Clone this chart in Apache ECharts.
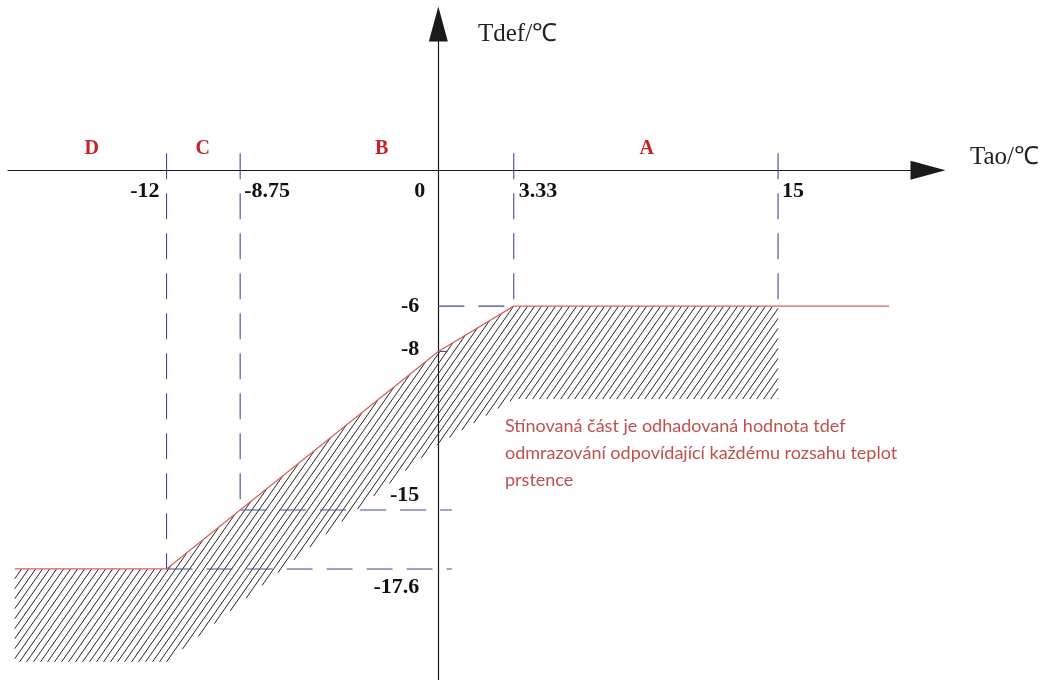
<!DOCTYPE html>
<html>
<head>
<meta charset="utf-8">
<script src="https://cdn.jsdelivr.net/npm/echarts@6/dist/echarts.min.js"></script>
<style>
  html, body { margin: 0; padding: 0; background: #fff; }
  #chart { width: 1043px; height: 680px; }
</style>
</head>
<body>
<div id="chart"></div>
<script>
// Outdoor temperature break points (Tao, °C) and defrost temperature levels (Tdef, °C)
const taoBreaks = [-12, -8.75, 0, 3.33, 15];
const tdefLevels = [-6, -8, -15, -17.6];
const zoneNames = ['D', 'C', 'B', 'A'];
const zoneCenters = [-15.3, -10.4, -2.5, 9.2];

// Defrost threshold curve, (Tao, Tdef)
const thresholdCurve = [[-18.7, -17.6], [-12, -17.6], [-8.75, -15], [0, -8], [3.33, -6], [19.9, -6]];
// Lower edge of the estimated band, right to left
const bandLower = [[15, -10.1], [3.33, -10.1], [0, -12.1], [-8.75, -19.1], [-12, -21.7], [-18.7, -21.7]];
const bandRight = 15;

// Guide segments between break points and levels
const guides = [
  [[-12, 0.75], [-12, -17.6]],
  [[-8.75, 0.75], [-8.75, -15]],
  [[3.33, 0.75], [3.33, -6]],
  [[15, 0.75], [15, -6]],
  [[0, -6], [3.33, -6]],
  [[0, -8], [0.4, -8]],
  [[-8.75, -15], [0.6, -15]],
  [[-12, -17.6], [0.6, -17.6]]
];

const noteLines = [
  'Stínovaná část je odhadovaná hodnota tdef',
  'odmrazování odpovídající každému rozsahu teplot',
  'prstence'
];

// ---- layout / styling ----
const SERIF = '"Liberation Serif", "Times New Roman", serif';
const xLabelDx = { '-12': -7, '-8.75': 4, '0': -13, '3.33': 5, '15': 4 };
const yLabelDy = { '-6': 0, '-8': -2, '-15': -15, '-17.6': 18 };
const HATCH_STEP = 7;                         // horizontal spacing, px
const HATCH_COT = 1 / Math.tan(55 * Math.PI / 180);

function curveAt(x) {
  for (let i = 1; i < thresholdCurve.length; i++) {
    const a = thresholdCurve[i - 1], b = thresholdCurve[i];
    if (x <= b[0]) return a[1] + (b[1] - a[1]) * (x - a[0]) / (b[0] - a[0]);
  }
  return thresholdCurve[thresholdCurve.length - 1][1];
}

const bandPolygon = thresholdCurve
  .filter(p => p[0] < bandRight)
  .concat([[bandRight, curveAt(bandRight)]])
  .concat(bandLower);

// Hatch lines "/" clipped to a pixel polygon
function hatchSegments(pts) {
  const f = p => p[0] + p[1] * HATCH_COT;
  const vals = pts.map(f);
  const cMin = Math.min.apply(null, vals), cMax = Math.max.apply(null, vals);
  const segs = [];
  for (let c = Math.ceil(cMin / HATCH_STEP) * HATCH_STEP; c <= cMax; c += HATCH_STEP) {
    const hits = [];
    for (let i = 0; i < pts.length; i++) {
      const a = pts[i], b = pts[(i + 1) % pts.length];
      const fa = vals[i] - c, fb = vals[(i + 1) % pts.length] - c;
      if ((fa < 0 && fb >= 0) || (fa >= 0 && fb < 0)) {
        const t = fa / (fa - fb);
        hits.push([a[0] + (b[0] - a[0]) * t, a[1] + (b[1] - a[1]) * t]);
      }
    }
    hits.sort((p, q) => p[1] - q[1]);
    for (let k = 0; k + 1 < hits.length; k += 2) segs.push([hits[k], hits[k + 1]]);
  }
  return segs;
}

const chart = echarts.init(document.getElementById('chart'), null, { renderer: 'canvas' });

const axisCommon = {
  type: 'value',
  axisLine: {
    show: true,
    onZero: true,
    symbol: ['none', 'triangle'],
    symbolSize: [19, 35],
    lineStyle: { color: '#1a1a1a', width: 1.2 }
  },
  axisTick: { show: false },
  axisLabel: { show: false },
  splitLine: { show: false }
};

const textEl = (text, x, y, align) => ({
  type: 'text',
  x, y,
  style: {
    text,
    fill: '#111',
    font: 'bold 22px ' + SERIF,
    align,
    verticalAlign: 'middle'
  }
});

chart.setOption({
  animation: false,
  backgroundColor: '#fff',
  grid: { left: 8, width: 920, top: 24, height: 656 },
  xAxis: Object.assign({}, axisCommon, { min: -19, max: 21.62 }),
  yAxis: Object.assign({}, axisCommon, { min: -22.5, max: 6.45 }),
  series: [
    {
      // hatched band of estimated values
      type: 'custom',
      z: 1,
      data: [0],
      renderItem: (params, api) => {
        const pts = bandPolygon.map(p => api.coord(p));
        return {
          type: 'group',
          children: hatchSegments(pts).map(s => ({
            type: 'line',
            shape: { x1: s[0][0], y1: s[0][1], x2: s[1][0], y2: s[1][1] },
            style: { stroke: '#262626', lineWidth: 1 }
          }))
        };
      }
    },
    {
      // dashed guides
      type: 'custom',
      z: 2,
      data: guides.map((g, i) => i),
      renderItem: (params, api) => {
        const seg = guides[params.dataIndex];
        const a = api.coord(seg[0]), b = api.coord(seg[1]);
        return {
          type: 'line',
          shape: { x1: a[0], y1: a[1], x2: b[0], y2: b[1] },
          style: { stroke: '#3f4a9c', lineWidth: 1.1, lineDash: [26, 14] }
        };
      }
    },
    {
      type: 'line',
      z: 3,
      data: thresholdCurve,
      symbol: 'none',
      lineStyle: { color: '#d9605a', width: 1.2 }
    },
    {
      // break-point and level labels
      type: 'custom',
      z: 4,
      data: [0],
      renderItem: (params, api) => {
        const children = [];
        taoBreaks.forEach(v => {
          const p = api.coord([v, 0]);
          const dx = xLabelDx[String(v)];
          children.push(textEl(String(v), p[0] + dx, p[1] + 21, dx < 0 ? 'right' : 'left'));
        });
        tdefLevels.forEach(v => {
          const p = api.coord([0, v]);
          children.push(textEl(String(v), p[0] - 19, p[1] + yLabelDy[String(v)], 'right'));
        });
        zoneNames.forEach((n, i) => {
          const p = api.coord([zoneCenters[i], 0]);
          const t = textEl(n, p[0], p[1] - 21, 'center');
          t.style.fill = '#c8202a';
          t.style.font = 'bold 20px ' + SERIF;
          children.push(t);
        });
        return { type: 'group', children };
      }
    }
  ],
  graphic: [
    {
      type: 'text', left: 478, top: 22,
      style: { text: 'Tdef/℃', font: '25px ' + SERIF, fill: '#222' }
    },
    {
      type: 'text', left: 970, top: 145,
      style: { text: 'Tao/℃', font: '25px ' + SERIF, fill: '#222' }
    },
    {
      type: 'text', left: 505, top: 413,
      style: {
        text: noteLines.join('\n'),
        font: '18px Lato, "Open Sans", sans-serif',
        lineHeight: 27,
        fill: '#c0504d'
      }
    }
  ]
});
</script>
</body>
</html>
